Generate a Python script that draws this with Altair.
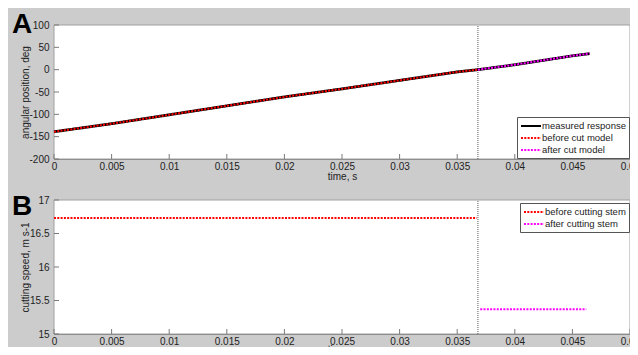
import altair as alt
import pandas as pd

# ---------------- data ----------------
x_ticks = [0, 0.005, 0.01, 0.015, 0.02, 0.025, 0.03, 0.035, 0.04, 0.045, 0.05]
ya_ticks = [-200, -150, -100, -50, 0, 50, 100]
yb_ticks = [15, 15.5, 16, 16.5, 17]

cut_time = 0.0368

t_meas = [0, 0.005, 0.01, 0.015, 0.02, 0.025, 0.03, 0.035, 0.0368, 0.04, 0.045, 0.0465]
ang_meas = [-139, -121, -101, -81, -61, -43, -24, -5, 0, 11, 31, 36]

t_before = [0, 0.005, 0.01, 0.015, 0.02, 0.025, 0.03, 0.035, 0.0368]
ang_before = [-139, -121, -101, -81, -61, -43, -24, -5, 0]

t_after = [0.0368, 0.04, 0.045, 0.0465]
ang_after = [0, 11, 31, 36]

t_speed_before = [0, 0.0367]
speed_before = [16.73, 16.73]
t_speed_after = [0.037, 0.0462]
speed_after = [15.37, 15.37]

series_a = ["measured response", "before cut model", "after cut model"]
series_b = ["before cutting stem", "after cutting stem"]

# ---------------- tables ----------------
df_meas = pd.DataFrame({"t": t_meas, "v": ang_meas, "s": series_a[0]})
df_models = pd.concat([
    pd.DataFrame({"t": t_before, "v": ang_before, "s": series_a[1]}),
    pd.DataFrame({"t": t_after, "v": ang_after, "s": series_a[2]}),
])
df_speed = pd.concat([
    pd.DataFrame({"t": t_speed_before, "v": speed_before, "s": series_b[0]}),
    pd.DataFrame({"t": t_speed_after, "v": speed_after, "s": series_b[1]}),
])
df_xt = pd.DataFrame({"t": x_ticks})
df_ya = pd.DataFrame({"v": ya_ticks})
df_yb = pd.DataFrame({"v": yb_ticks})
df_one = pd.DataFrame({"t": [cut_time]})

# ---------------- layout (pixels) ----------------
W = 576            # plot width
HA = 134           # panel A height
B_TOP, B_BOT = 175, 309   # panel B top / bottom inside the view
FONT = "Liberation Sans"
AXCOL = "#7a7a7a"
LABEL = "'' + datum.value"

X_DOM = [0, 0.05]
YA_DOM = [-200, 100]
YB_DOM = [15, 17]


def xs():
    return alt.Scale(domain=X_DOM, nice=False, zero=False)


def yas():
    return alt.Scale(domain=YA_DOM, range=[HA, 0], nice=False, zero=False)


def ybs():
    return alt.Scale(domain=YB_DOM, range=[B_BOT, B_TOP], nice=False, zero=False)


def xaxis(offset, title_y):
    return alt.Axis(values=x_ticks, labelExpr=LABEL, title="time, s", ticks=False,
                    orient="bottom", offset=offset,
                    labelPadding=2, titleY=title_y, titleBaseline="top",
                    labelFlush=False, labelOverlap=False)


def yaxis(title, ticks, center):
    return alt.Axis(values=ticks, labelExpr=LABEL, title=title, ticks=False,
                    orient="left", labelPadding=5, titleX=-29, titleY=center,
                    labelOverlap=False, titleBaseline="middle",
                    titleAlign="center", titleAngle=270)


def X(field="t", axis=None):
    return alt.X(f"{field}:Q", scale=xs(), axis=axis)


layers = []

# panel backgrounds
for yscale, dom in ((yas, YA_DOM), (ybs, YB_DOM)):
    layers.append(alt.Chart(df_one).mark_rect(fill="white", stroke="#a0a0a0", strokeWidth=1).encode(
        x=alt.X(datum=X_DOM[0], scale=xs(), axis=None),
        x2=alt.X2(datum=X_DOM[1]),
        y=alt.Y(datum=dom[0], scale=yscale(), axis=None),
        y2=alt.Y2(datum=dom[1])))

# cut lines
for yscale, dom in ((yas, YA_DOM), (ybs, YB_DOM)):
    layers.append(alt.Chart(df_one).mark_rule(color="#555", strokeWidth=1, strokeDash=[1, 1]).encode(
        x=X("t"),
        y=alt.Y(datum=dom[0], scale=yscale(), axis=None),
        y2=alt.Y2(datum=dom[1])))

# panel A
color_a_scale = dict(domain=series_a, range=["#000000", "#ff0000", "#ff00ff"])
dash_a_scale = dict(domain=series_a, range=[[1, 0], [2, 1.3], [2, 1.3]])
leg_a = alt.Legend(title=None, orient="none", legendX=463, legendY=92)

layers.append(alt.Chart(df_meas).mark_line(strokeWidth=2.8).encode(
    x=X("t", xaxis(-(B_BOT - HA), 12)),
    y=alt.Y("v:Q", scale=yas(), axis=yaxis("angular position, deg", ya_ticks, HA / 2)),
    color=alt.Color("s:N", scale=alt.Scale(**color_a_scale), legend=leg_a),
    strokeDash=alt.StrokeDash("s:N", scale=alt.Scale(**dash_a_scale), legend=leg_a)))

layers.append(alt.Chart(df_models).mark_line(strokeWidth=2).encode(
    x=X("t"),
    y=alt.Y("v:Q", scale=yas(), axis=None),
    color=alt.Color("s:N", scale=alt.Scale(**color_a_scale), legend=None),
    strokeDash=alt.StrokeDash("s:N", scale=alt.Scale(**dash_a_scale), legend=None),
    detail="s:N"))

# panel B
color_b_scale = dict(domain=series_b, range=["#ff0000", "#ff00ff"])
dash_b_scale = dict(domain=series_b, range=[[2, 1.3], [2, 1.3]])
leg_b = alt.Legend(title=None, orient="none", legendX=466, legendY=B_TOP + 3)

layers.append(alt.Chart(df_speed).mark_line(strokeWidth=2).encode(
    x=X("t", xaxis(0, 10)),
    y=alt.Y("v:Q", scale=ybs(), axis=yaxis("cutting speed, m s-1", yb_ticks, (B_TOP + B_BOT) / 2)),
    color=alt.Color("s:N", scale=alt.Scale(**color_b_scale), legend=leg_b),
    strokeDash=alt.StrokeDash("s:N", scale=alt.Scale(**dash_b_scale), legend=leg_b),
    detail="s:N"))

# inward tick marks
for yscale, dom, ydf, ybottom in ((yas, YA_DOM, df_ya, HA), (ybs, YB_DOM, df_yb, B_BOT)):
    layers.append(alt.Chart(df_xt).mark_rule(color=AXCOL, strokeWidth=1).encode(
        x=X("t"), y=alt.value(ybottom), y2=alt.value(ybottom - 5)))
    layers.append(alt.Chart(ydf).mark_rule(color=AXCOL, strokeWidth=1).encode(
        y=alt.Y("v:Q", scale=yscale(), axis=None), x=alt.value(0), x2=alt.value(5)))

# panel letters
for txt, ybase in (("A", 8), ("B", B_TOP + 15)):
    layers.append(alt.Chart(df_one).mark_text(
        text=txt, font=FONT, fontSize=28, fontWeight="bold", color="#000",
        align="center", baseline="alphabetic").encode(
        x=alt.value(-32), y=alt.value(ybase)))

chart = alt.layer(*layers).resolve_scale(
    x="independent", y="independent", color="independent", strokeDash="independent"
).properties(
    width=W, height=B_BOT,
    autosize=alt.AutoSizeParams(type="none"),
    padding={"left": 46, "top": 17, "right": 0, "bottom": 13},
    background="#cccccc",
).configure_view(
    stroke=None, fill=None
).configure_axis(
    grid=False, domainColor=AXCOL, labelFont=FONT, titleFont=FONT,
    labelFontSize=10, titleFontSize=10, titleFontWeight="normal",
    labelColor="#222", titleColor="#222"
).configure_legend(
    fillColor="white", strokeColor="#555", padding=3,
    labelFont=FONT, labelFontSize=9.5, labelColor="#222",
    symbolType="M-2,0H2", symbolSize=100, symbolStrokeWidth=2, symbolOffset=5,
    rowPadding=1, labelOffset=5, cornerRadius=0
)

chart.save("out.html", embed_options={"renderer": "svg", "actions": False})
